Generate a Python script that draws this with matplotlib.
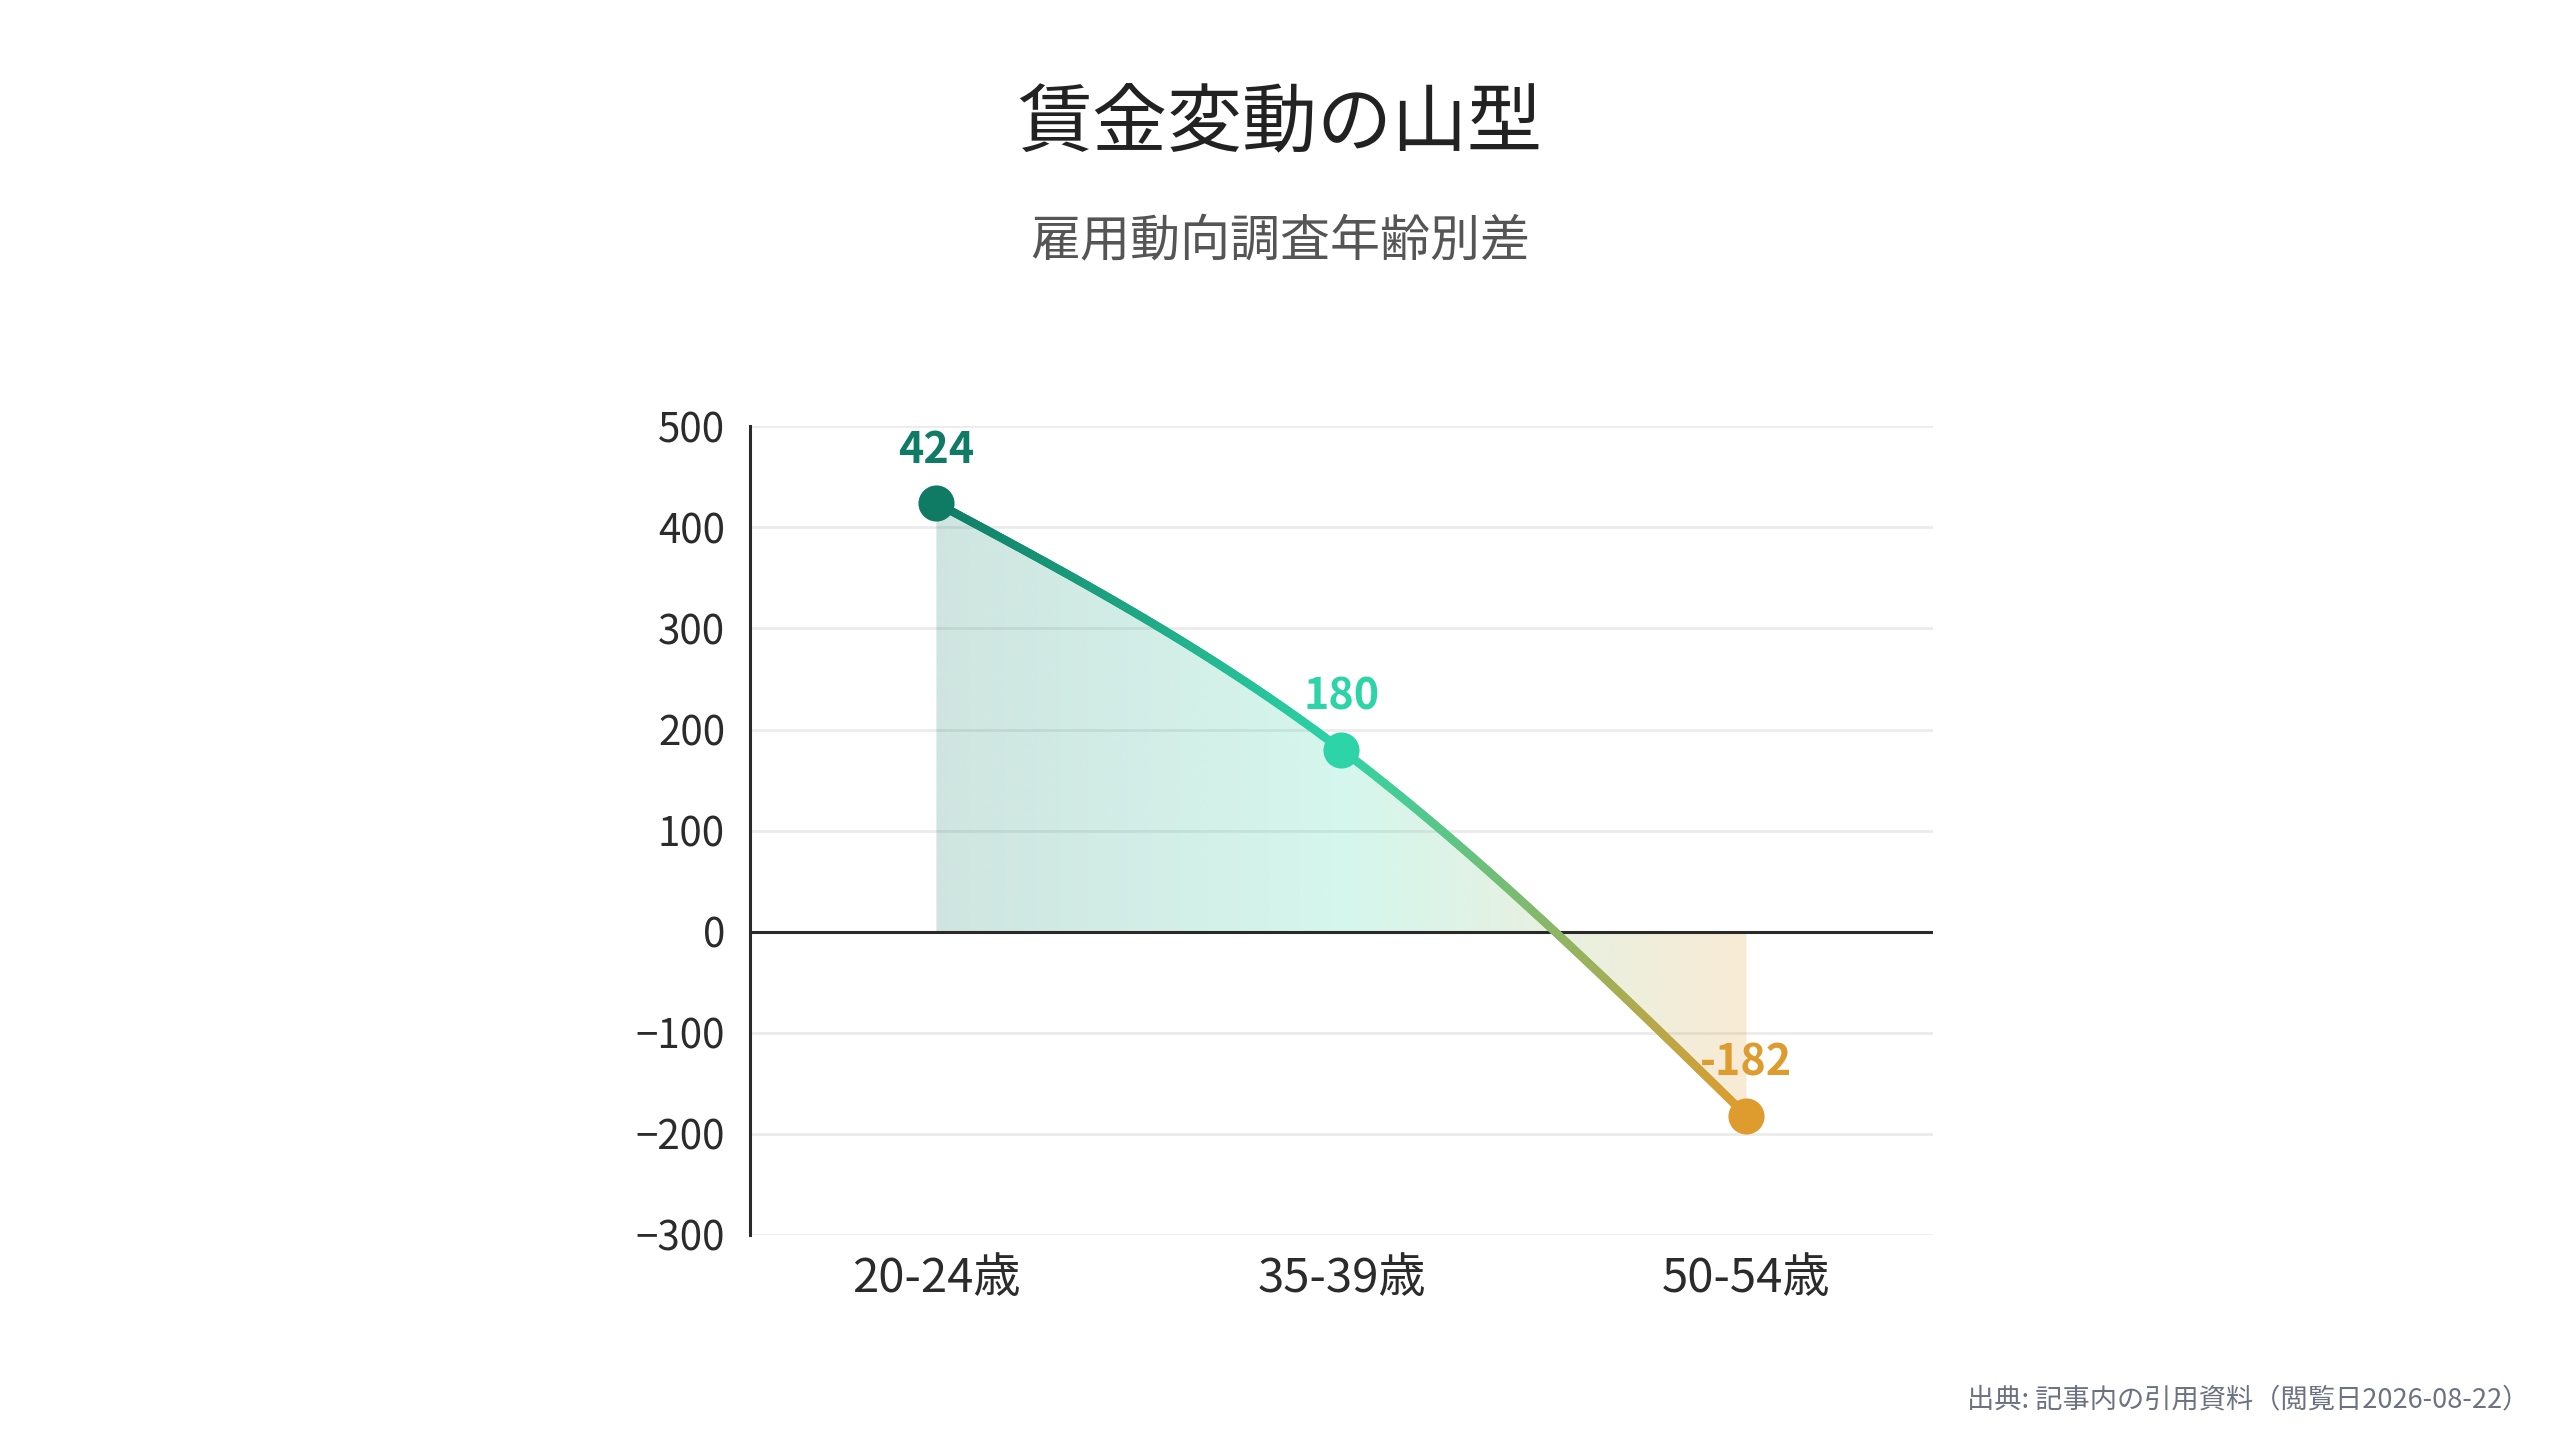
import numpy as np
import matplotlib
matplotlib.use("Agg")
import matplotlib.pyplot as plt
from matplotlib.collections import LineCollection
from matplotlib.colors import LinearSegmentedColormap

plt.rcParams['font.family'] = ['Noto Sans CJK JP', 'DejaVu Sans']
plt.rcParams['axes.unicode_minus'] = True

# ---- data ----
categories = ["20-24歳", "35-39歳", "50-54歳"]
values = [424, 180, -182]
point_colors = ["#0F7B64", "#2DD4A7", "#DE9C2E"]
y_ticks = [-300, -200, -100, 0, 100, 200, 300, 400, 500]
title = "賃金変動の山型"
subtitle = "雇用動向調査年齢別差"
source = "出典: 記事内の引用資料（閲覧日2026-08-22）"

fig = plt.figure(figsize=(12.8, 7.2), dpi=200)
ax = fig.add_axes([0.293, 0.1424, 0.462, 0.5616])

x = np.arange(len(values), dtype=float)
y = np.array(values, dtype=float)

# monotone cubic (monotoneX-like) curve for rendering
h = np.diff(x)
s = np.diff(y) / h
m = np.zeros_like(y)
for i in range(1, len(y) - 1):
    p = (s[i - 1] * h[i] + s[i] * h[i - 1]) / (h[i - 1] + h[i])
    m[i] = (np.sign(s[i - 1]) + np.sign(s[i])) * min(abs(s[i - 1]), abs(s[i]), 0.5 * abs(p))
m[0] = (3 * s[0] - m[1]) / 2
m[-1] = (3 * s[-1] - m[-2]) / 2
xs, ys = [], []
for i in range(len(y) - 1):
    t = np.linspace(0, 1, 200)
    h00 = 2 * t**3 - 3 * t**2 + 1
    h10 = t**3 - 2 * t**2 + t
    h01 = -2 * t**3 + 3 * t**2
    h11 = t**3 - t**2
    xs.append(x[i] + t * h[i])
    ys.append(h00 * y[i] + h10 * h[i] * m[i] + h01 * y[i + 1] + h11 * h[i] * m[i + 1])
xs = np.concatenate(xs)
ys = np.concatenate(ys)

cmap = LinearSegmentedColormap.from_list("g", [(0, point_colors[0]), (0.5, point_colors[1]), (1, point_colors[2])])

# gridlines
for v in y_ticks:
    if v != 0:
        ax.axhline(v, color="#EBEBEB", lw=1.0, zorder=0)

# gradient fill
poly = ax.fill_between(xs, ys, 0, color="none", lw=0, zorder=1)
grad = np.linspace(0, 1, 512)
rgba = cmap(grad)
rgba[:, 3] = 0.2
img = ax.imshow(rgba[np.newaxis, :, :], extent=[x[0], x[-1], -300, 500], aspect="auto",
                interpolation="bilinear", zorder=1, origin="lower")
path = poly.get_paths()[0]
img.set_clip_path(path, transform=ax.transData)

# zero line
ax.axhline(0, color="#2a2a2a", lw=1.1, zorder=2)

# gradient line
pts = np.column_stack([xs, ys]).reshape(-1, 1, 2)
segs = np.concatenate([pts[:-1], pts[1:]], axis=1)
lc = LineCollection(segs, colors=cmap((xs[:-1] + xs[1:]) / 2 / x[-1]), linewidths=3.0,
                    capstyle="round", zorder=4)
ax.add_collection(lc)

# markers and labels
for xi, yi, c in zip(x, y, point_colors):
    ax.plot([xi], [yi], "o", ms=13, color=c, zorder=5, mec="none")
    ax.annotate(f"{int(yi)}", (xi, yi), xytext=(0, 19), textcoords="offset points",
                ha="center", va="center", fontsize=15.5, fontweight="bold", color=c, zorder=3)

ax.set_xlim(-0.46, 2.46)
ax.set_ylim(-300, 500)
ax.set_yticks(y_ticks)
ax.set_xticks(x)
ax.set_xticklabels(categories)
ax.tick_params(axis="y", length=0, pad=9, labelsize=14.5, labelcolor="#2b2b2b")
ax.tick_params(axis="x", length=0, pad=7, labelsize=17, labelcolor="#2b2b2b")
for sp in ["top", "right", "bottom"]:
    ax.spines[sp].set_visible(False)
ax.spines["left"].set_color("#2a2a2a")
ax.spines["left"].set_linewidth(1.1)

fig.text(0.5, 0.913, title, ha="center", va="center", fontsize=27, color="#222222")
fig.text(0.5, 0.832, subtitle, ha="center", va="center", fontsize=18, color="#555555")
fig.text(0.988, 0.028, source, ha="right", va="center", fontsize=9.8, color="#6B7280")

fig.savefig("out.png", dpi=200, facecolor="white")
